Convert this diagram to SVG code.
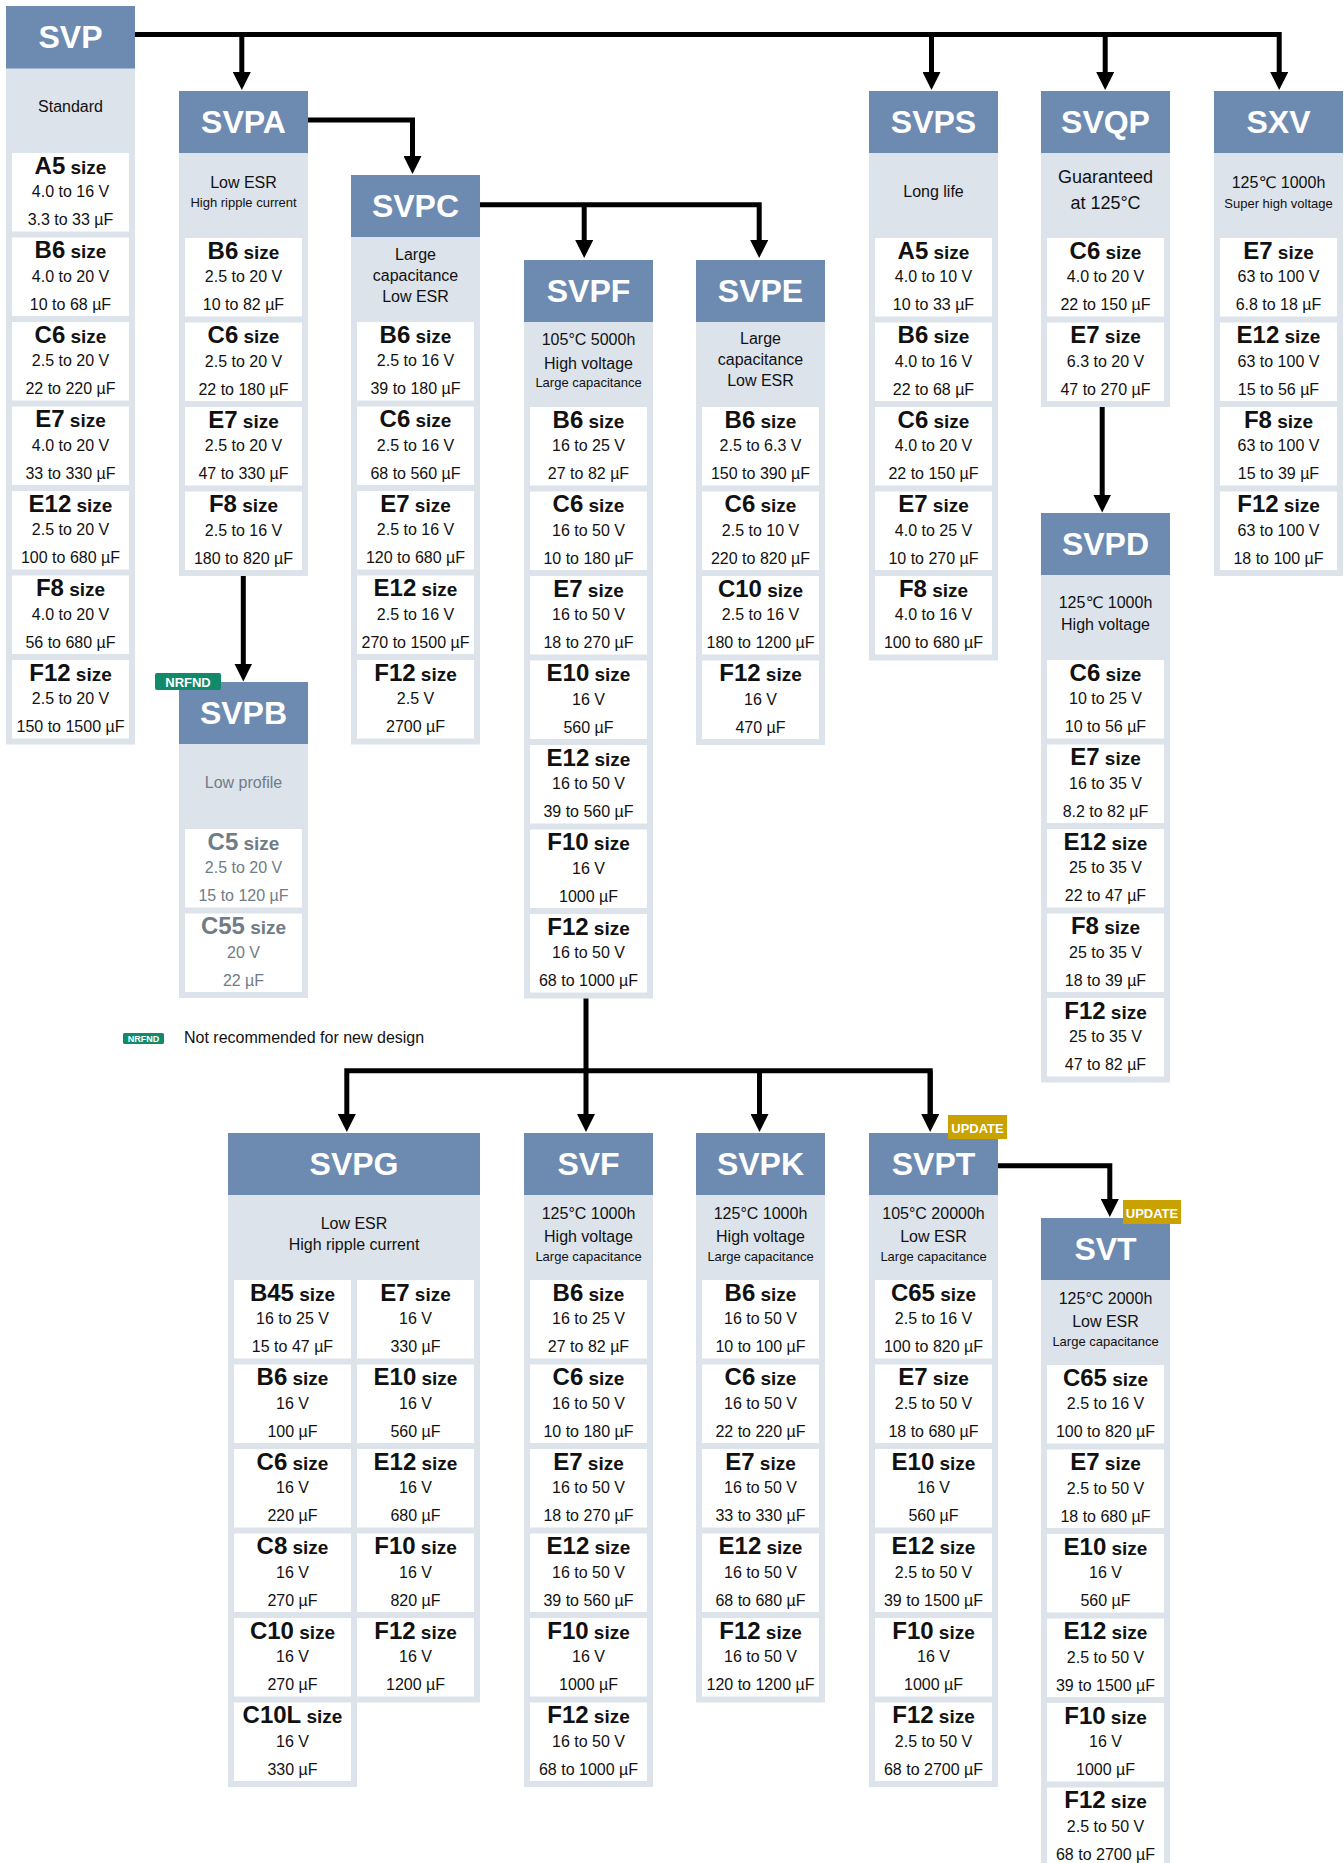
<svg xmlns="http://www.w3.org/2000/svg" width="1344" height="1863" viewBox="0 0 1344 1863">
<style>
text{font-family:"Liberation Sans",Arial,"DejaVu Sans",sans-serif;text-anchor:middle;fill:#111}
.hd{fill:#6d8ab1}
.bd{fill:#dce3eb}
.cd{fill:#fff}
.ht{font-size:32px;font-weight:bold;fill:#fff}
.d16{font-size:16px}
.d13{font-size:13px}
.d18{font-size:18px}
.t{font-size:24px;font-weight:bold}
.s{font-size:19px;font-weight:bold}
.v{font-size:16px}
.gr text,.gr{fill:#707c86}
.nr{fill:#108a6b}
.up{fill:#c9a200}
.bt{font-size:13px;font-weight:bold;fill:#fff}
.con{fill:none;stroke:#000;stroke-width:5;stroke-linejoin:miter;marker-end:url(#ah)}
.ln{fill:none;stroke:#000;stroke-width:5;stroke-linejoin:miter}
</style>
<defs>
<marker id="ah" markerUnits="userSpaceOnUse" viewBox="0 0 18 18" markerWidth="18" markerHeight="18" refX="8" refY="9" orient="auto"><path d="M0,0 L18,9 L0,18 Z" fill="#000"/></marker>
</defs>

<g id="SVP">
<rect class="bd" x="6" y="6" width="129" height="738.5"/>
<rect class="hd" x="6" y="6" width="129" height="62.5"/>
<text class="ht" x="70.5" y="48">SVP</text>
<text class="d16" x="70.5" y="112">Standard</text>
<g transform="translate(12,153)"><rect class="cd" width="117" height="78.5"/><text x="58.5" y="20.5"><tspan class="t">A5</tspan><tspan class="s"> size</tspan></text><text class="v" x="58.5" y="44">4.0 to 16 V</text><text class="v" x="58.5" y="72">3.3 to 33 µF</text></g>
<g transform="translate(12,237.5)"><rect class="cd" width="117" height="78.5"/><text x="58.5" y="20.5"><tspan class="t">B6</tspan><tspan class="s"> size</tspan></text><text class="v" x="58.5" y="44">4.0 to 20 V</text><text class="v" x="58.5" y="72">10 to 68 µF</text></g>
<g transform="translate(12,322)"><rect class="cd" width="117" height="78.5"/><text x="58.5" y="20.5"><tspan class="t">C6</tspan><tspan class="s"> size</tspan></text><text class="v" x="58.5" y="44">2.5 to 20 V</text><text class="v" x="58.5" y="72">22 to 220 µF</text></g>
<g transform="translate(12,406.5)"><rect class="cd" width="117" height="78.5"/><text x="58.5" y="20.5"><tspan class="t">E7</tspan><tspan class="s"> size</tspan></text><text class="v" x="58.5" y="44">4.0 to 20 V</text><text class="v" x="58.5" y="72">33 to 330 µF</text></g>
<g transform="translate(12,491)"><rect class="cd" width="117" height="78.5"/><text x="58.5" y="20.5"><tspan class="t">E12</tspan><tspan class="s"> size</tspan></text><text class="v" x="58.5" y="44">2.5 to 20 V</text><text class="v" x="58.5" y="72">100 to 680 µF</text></g>
<g transform="translate(12,575.5)"><rect class="cd" width="117" height="78.5"/><text x="58.5" y="20.5"><tspan class="t">F8</tspan><tspan class="s"> size</tspan></text><text class="v" x="58.5" y="44">4.0 to 20 V</text><text class="v" x="58.5" y="72">56 to 680 µF</text></g>
<g transform="translate(12,660)"><rect class="cd" width="117" height="78.5"/><text x="58.5" y="20.5"><tspan class="t">F12</tspan><tspan class="s"> size</tspan></text><text class="v" x="58.5" y="44">2.5 to 20 V</text><text class="v" x="58.5" y="72">150 to 1500 µF</text></g>
</g>

<g id="SVPA">
<rect class="bd" x="179" y="91" width="129" height="485"/>
<rect class="hd" x="179" y="91" width="129" height="62"/>
<text class="ht" x="243.5" y="133">SVPA</text>
<text class="d16" x="243.5" y="188">Low ESR</text>
<text class="d13" x="243.5" y="207">High ripple current</text>
<g transform="translate(185,238)"><rect class="cd" width="117" height="78.5"/><text x="58.5" y="20.5"><tspan class="t">B6</tspan><tspan class="s"> size</tspan></text><text class="v" x="58.5" y="44">2.5 to 20 V</text><text class="v" x="58.5" y="72">10 to 82 µF</text></g>
<g transform="translate(185,322.5)"><rect class="cd" width="117" height="78.5"/><text x="58.5" y="20.5"><tspan class="t">C6</tspan><tspan class="s"> size</tspan></text><text class="v" x="58.5" y="44">2.5 to 20 V</text><text class="v" x="58.5" y="72">22 to 180 µF</text></g>
<g transform="translate(185,407)"><rect class="cd" width="117" height="78.5"/><text x="58.5" y="20.5"><tspan class="t">E7</tspan><tspan class="s"> size</tspan></text><text class="v" x="58.5" y="44">2.5 to 20 V</text><text class="v" x="58.5" y="72">47 to 330 µF</text></g>
<g transform="translate(185,491.5)"><rect class="cd" width="117" height="78.5"/><text x="58.5" y="20.5"><tspan class="t">F8</tspan><tspan class="s"> size</tspan></text><text class="v" x="58.5" y="44">2.5 to 16 V</text><text class="v" x="58.5" y="72">180 to 820 µF</text></g>
</g>

<g id="SVPC">
<rect class="bd" x="351" y="175" width="129" height="569.5"/>
<rect class="hd" x="351" y="175" width="129" height="62"/>
<text class="ht" x="415.5" y="217">SVPC</text>
<text class="d16" x="415.5" y="260">Large</text>
<text class="d16" x="415.5" y="281">capacitance</text>
<text class="d16" x="415.5" y="302">Low ESR</text>
<g transform="translate(357,322)"><rect class="cd" width="117" height="78.5"/><text x="58.5" y="20.5"><tspan class="t">B6</tspan><tspan class="s"> size</tspan></text><text class="v" x="58.5" y="44">2.5 to 16 V</text><text class="v" x="58.5" y="72">39 to 180 µF</text></g>
<g transform="translate(357,406.5)"><rect class="cd" width="117" height="78.5"/><text x="58.5" y="20.5"><tspan class="t">C6</tspan><tspan class="s"> size</tspan></text><text class="v" x="58.5" y="44">2.5 to 16 V</text><text class="v" x="58.5" y="72">68 to 560 µF</text></g>
<g transform="translate(357,491)"><rect class="cd" width="117" height="78.5"/><text x="58.5" y="20.5"><tspan class="t">E7</tspan><tspan class="s"> size</tspan></text><text class="v" x="58.5" y="44">2.5 to 16 V</text><text class="v" x="58.5" y="72">120 to 680 µF</text></g>
<g transform="translate(357,575.5)"><rect class="cd" width="117" height="78.5"/><text x="58.5" y="20.5"><tspan class="t">E12</tspan><tspan class="s"> size</tspan></text><text class="v" x="58.5" y="44">2.5 to 16 V</text><text class="v" x="58.5" y="72">270 to 1500 µF</text></g>
<g transform="translate(357,660)"><rect class="cd" width="117" height="78.5"/><text x="58.5" y="20.5"><tspan class="t">F12</tspan><tspan class="s"> size</tspan></text><text class="v" x="58.5" y="44">2.5 V</text><text class="v" x="58.5" y="72">2700 µF</text></g>
</g>

<g id="SVPF">
<rect class="bd" x="524" y="260" width="129" height="738.5"/>
<rect class="hd" x="524" y="260" width="129" height="62"/>
<text class="ht" x="588.5" y="302">SVPF</text>
<text class="d16" x="588.5" y="345">105°C 5000h</text>
<text class="d16" x="588.5" y="369">High voltage</text>
<text class="d13" x="588.5" y="387">Large capacitance</text>
<g transform="translate(530,407)"><rect class="cd" width="117" height="78.5"/><text x="58.5" y="20.5"><tspan class="t">B6</tspan><tspan class="s"> size</tspan></text><text class="v" x="58.5" y="44">16 to 25 V</text><text class="v" x="58.5" y="72">27 to 82 µF</text></g>
<g transform="translate(530,491.5)"><rect class="cd" width="117" height="78.5"/><text x="58.5" y="20.5"><tspan class="t">C6</tspan><tspan class="s"> size</tspan></text><text class="v" x="58.5" y="44">16 to 50 V</text><text class="v" x="58.5" y="72">10 to 180 µF</text></g>
<g transform="translate(530,576)"><rect class="cd" width="117" height="78.5"/><text x="58.5" y="20.5"><tspan class="t">E7</tspan><tspan class="s"> size</tspan></text><text class="v" x="58.5" y="44">16 to 50 V</text><text class="v" x="58.5" y="72">18 to 270 µF</text></g>
<g transform="translate(530,660.5)"><rect class="cd" width="117" height="78.5"/><text x="58.5" y="20.5"><tspan class="t">E10</tspan><tspan class="s"> size</tspan></text><text class="v" x="58.5" y="44">16 V</text><text class="v" x="58.5" y="72">560 µF</text></g>
<g transform="translate(530,745)"><rect class="cd" width="117" height="78.5"/><text x="58.5" y="20.5"><tspan class="t">E12</tspan><tspan class="s"> size</tspan></text><text class="v" x="58.5" y="44">16 to 50 V</text><text class="v" x="58.5" y="72">39 to 560 µF</text></g>
<g transform="translate(530,829.5)"><rect class="cd" width="117" height="78.5"/><text x="58.5" y="20.5"><tspan class="t">F10</tspan><tspan class="s"> size</tspan></text><text class="v" x="58.5" y="44">16 V</text><text class="v" x="58.5" y="72">1000 µF</text></g>
<g transform="translate(530,914)"><rect class="cd" width="117" height="78.5"/><text x="58.5" y="20.5"><tspan class="t">F12</tspan><tspan class="s"> size</tspan></text><text class="v" x="58.5" y="44">16 to 50 V</text><text class="v" x="58.5" y="72">68 to 1000 µF</text></g>
</g>

<g id="SVPE">
<rect class="bd" x="696" y="260" width="129" height="485"/>
<rect class="hd" x="696" y="260" width="129" height="62"/>
<text class="ht" x="760.5" y="302">SVPE</text>
<text class="d16" x="760.5" y="344">Large</text>
<text class="d16" x="760.5" y="365">capacitance</text>
<text class="d16" x="760.5" y="386">Low ESR</text>
<g transform="translate(702,407)"><rect class="cd" width="117" height="78.5"/><text x="58.5" y="20.5"><tspan class="t">B6</tspan><tspan class="s"> size</tspan></text><text class="v" x="58.5" y="44">2.5 to 6.3 V</text><text class="v" x="58.5" y="72">150 to 390 µF</text></g>
<g transform="translate(702,491.5)"><rect class="cd" width="117" height="78.5"/><text x="58.5" y="20.5"><tspan class="t">C6</tspan><tspan class="s"> size</tspan></text><text class="v" x="58.5" y="44">2.5 to 10 V</text><text class="v" x="58.5" y="72">220 to 820 µF</text></g>
<g transform="translate(702,576)"><rect class="cd" width="117" height="78.5"/><text x="58.5" y="20.5"><tspan class="t">C10</tspan><tspan class="s"> size</tspan></text><text class="v" x="58.5" y="44">2.5 to 16 V</text><text class="v" x="58.5" y="72">180 to 1200 µF</text></g>
<g transform="translate(702,660.5)"><rect class="cd" width="117" height="78.5"/><text x="58.5" y="20.5"><tspan class="t">F12</tspan><tspan class="s"> size</tspan></text><text class="v" x="58.5" y="44">16 V</text><text class="v" x="58.5" y="72">470 µF</text></g>
</g>

<g id="SVPS">
<rect class="bd" x="869" y="91" width="129" height="569.5"/>
<rect class="hd" x="869" y="91" width="129" height="62"/>
<text class="ht" x="933.5" y="133">SVPS</text>
<text class="d16" x="933.5" y="197">Long life</text>
<g transform="translate(875,238)"><rect class="cd" width="117" height="78.5"/><text x="58.5" y="20.5"><tspan class="t">A5</tspan><tspan class="s"> size</tspan></text><text class="v" x="58.5" y="44">4.0 to 10 V</text><text class="v" x="58.5" y="72">10 to 33 µF</text></g>
<g transform="translate(875,322.5)"><rect class="cd" width="117" height="78.5"/><text x="58.5" y="20.5"><tspan class="t">B6</tspan><tspan class="s"> size</tspan></text><text class="v" x="58.5" y="44">4.0 to 16 V</text><text class="v" x="58.5" y="72">22 to 68 µF</text></g>
<g transform="translate(875,407)"><rect class="cd" width="117" height="78.5"/><text x="58.5" y="20.5"><tspan class="t">C6</tspan><tspan class="s"> size</tspan></text><text class="v" x="58.5" y="44">4.0 to 20 V</text><text class="v" x="58.5" y="72">22 to 150 µF</text></g>
<g transform="translate(875,491.5)"><rect class="cd" width="117" height="78.5"/><text x="58.5" y="20.5"><tspan class="t">E7</tspan><tspan class="s"> size</tspan></text><text class="v" x="58.5" y="44">4.0 to 25 V</text><text class="v" x="58.5" y="72">10 to 270 µF</text></g>
<g transform="translate(875,576)"><rect class="cd" width="117" height="78.5"/><text x="58.5" y="20.5"><tspan class="t">F8</tspan><tspan class="s"> size</tspan></text><text class="v" x="58.5" y="44">4.0 to 16 V</text><text class="v" x="58.5" y="72">100 to 680 µF</text></g>
</g>

<g id="SVQP">
<rect class="bd" x="1041" y="91" width="129" height="316"/>
<rect class="hd" x="1041" y="91" width="129" height="62"/>
<text class="ht" x="1105.5" y="133">SVQP</text>
<text class="d18" x="1105.5" y="183">Guaranteed</text>
<text class="d18" x="1105.5" y="209">at 125°C</text>
<g transform="translate(1047,238)"><rect class="cd" width="117" height="78.5"/><text x="58.5" y="20.5"><tspan class="t">C6</tspan><tspan class="s"> size</tspan></text><text class="v" x="58.5" y="44">4.0 to 20 V</text><text class="v" x="58.5" y="72">22 to 150 µF</text></g>
<g transform="translate(1047,322.5)"><rect class="cd" width="117" height="78.5"/><text x="58.5" y="20.5"><tspan class="t">E7</tspan><tspan class="s"> size</tspan></text><text class="v" x="58.5" y="44">6.3 to 20 V</text><text class="v" x="58.5" y="72">47 to 270 µF</text></g>
</g>

<g id="SXV">
<rect class="bd" x="1214" y="91" width="129" height="485"/>
<rect class="hd" x="1214" y="91" width="129" height="62"/>
<text class="ht" x="1278.5" y="133">SXV</text>
<text class="d16" x="1278.5" y="188">125℃ 1000h</text>
<text class="d13" x="1278.5" y="208">Super high voltage</text>
<g transform="translate(1220,238)"><rect class="cd" width="117" height="78.5"/><text x="58.5" y="20.5"><tspan class="t">E7</tspan><tspan class="s"> size</tspan></text><text class="v" x="58.5" y="44">63 to 100 V</text><text class="v" x="58.5" y="72">6.8 to 18 µF</text></g>
<g transform="translate(1220,322.5)"><rect class="cd" width="117" height="78.5"/><text x="58.5" y="20.5"><tspan class="t">E12</tspan><tspan class="s"> size</tspan></text><text class="v" x="58.5" y="44">63 to 100 V</text><text class="v" x="58.5" y="72">15 to 56 µF</text></g>
<g transform="translate(1220,407)"><rect class="cd" width="117" height="78.5"/><text x="58.5" y="20.5"><tspan class="t">F8</tspan><tspan class="s"> size</tspan></text><text class="v" x="58.5" y="44">63 to 100 V</text><text class="v" x="58.5" y="72">15 to 39 µF</text></g>
<g transform="translate(1220,491.5)"><rect class="cd" width="117" height="78.5"/><text x="58.5" y="20.5"><tspan class="t">F12</tspan><tspan class="s"> size</tspan></text><text class="v" x="58.5" y="44">63 to 100 V</text><text class="v" x="58.5" y="72">18 to 100 µF</text></g>
</g>

<g id="SVPB">
<rect class="bd" x="179" y="682" width="129" height="316"/>
<rect class="hd" x="179" y="682" width="129" height="62"/>
<text class="ht" x="243.5" y="724">SVPB</text>
<rect class="nr" x="155" y="673" width="66" height="17" rx="2"/>
<text class="bt" x="188" y="686.5">NRFND</text>
<g class="gr">
<text class="d16" x="243.5" y="788">Low profile</text>
<g transform="translate(185,829)"><rect class="cd" width="117" height="78.5"/><text x="58.5" y="20.5"><tspan class="t">C5</tspan><tspan class="s"> size</tspan></text><text class="v" x="58.5" y="44">2.5 to 20 V</text><text class="v" x="58.5" y="72">15 to 120 µF</text></g>
<g transform="translate(185,913.5)"><rect class="cd" width="117" height="78.5"/><text x="58.5" y="20.5"><tspan class="t">C55</tspan><tspan class="s"> size</tspan></text><text class="v" x="58.5" y="44">20 V</text><text class="v" x="58.5" y="72">22 µF</text></g>
</g>
</g>

<g id="SVPD">
<rect class="bd" x="1041" y="513" width="129" height="569.5"/>
<rect class="hd" x="1041" y="513" width="129" height="62"/>
<text class="ht" x="1105.5" y="555">SVPD</text>
<text class="d16" x="1105.5" y="608">125℃ 1000h</text>
<text class="d16" x="1105.5" y="630">High voltage</text>
<g transform="translate(1047,660)"><rect class="cd" width="117" height="78.5"/><text x="58.5" y="20.5"><tspan class="t">C6</tspan><tspan class="s"> size</tspan></text><text class="v" x="58.5" y="44">10 to 25 V</text><text class="v" x="58.5" y="72">10 to 56 µF</text></g>
<g transform="translate(1047,744.5)"><rect class="cd" width="117" height="78.5"/><text x="58.5" y="20.5"><tspan class="t">E7</tspan><tspan class="s"> size</tspan></text><text class="v" x="58.5" y="44">16 to 35 V</text><text class="v" x="58.5" y="72">8.2 to 82 µF</text></g>
<g transform="translate(1047,829)"><rect class="cd" width="117" height="78.5"/><text x="58.5" y="20.5"><tspan class="t">E12</tspan><tspan class="s"> size</tspan></text><text class="v" x="58.5" y="44">25 to 35 V</text><text class="v" x="58.5" y="72">22 to 47 µF</text></g>
<g transform="translate(1047,913.5)"><rect class="cd" width="117" height="78.5"/><text x="58.5" y="20.5"><tspan class="t">F8</tspan><tspan class="s"> size</tspan></text><text class="v" x="58.5" y="44">25 to 35 V</text><text class="v" x="58.5" y="72">18 to 39 µF</text></g>
<g transform="translate(1047,998)"><rect class="cd" width="117" height="78.5"/><text x="58.5" y="20.5"><tspan class="t">F12</tspan><tspan class="s"> size</tspan></text><text class="v" x="58.5" y="44">25 to 35 V</text><text class="v" x="58.5" y="72">47 to 82 µF</text></g>
</g>

<g id="legend">
<rect class="nr" x="123" y="1033" width="41" height="11" rx="1.5"/>
<text x="143.5" y="1042" style="font-size:9px;font-weight:bold;fill:#fff">NRFND</text>
<text class="d16" x="184" y="1043" style="text-anchor:start">Not recommended for new design</text>
</g>

<g id="SVPG">
<path class="bd" d="M228,1133 H480 V1702.5 H357 V1787 H228 Z"/>
<rect class="hd" x="228" y="1133" width="252" height="62"/>
<text class="ht" x="354" y="1175">SVPG</text>
<text class="d16" x="354" y="1229">Low ESR</text>
<text class="d16" x="354" y="1250">High ripple current</text>
<g transform="translate(234,1280)"><rect class="cd" width="117" height="78.5"/><text x="58.5" y="20.5"><tspan class="t">B45</tspan><tspan class="s"> size</tspan></text><text class="v" x="58.5" y="44">16 to 25 V</text><text class="v" x="58.5" y="72">15 to 47 µF</text></g>
<g transform="translate(234,1364.5)"><rect class="cd" width="117" height="78.5"/><text x="58.5" y="20.5"><tspan class="t">B6</tspan><tspan class="s"> size</tspan></text><text class="v" x="58.5" y="44">16 V</text><text class="v" x="58.5" y="72">100 µF</text></g>
<g transform="translate(234,1449)"><rect class="cd" width="117" height="78.5"/><text x="58.5" y="20.5"><tspan class="t">C6</tspan><tspan class="s"> size</tspan></text><text class="v" x="58.5" y="44">16 V</text><text class="v" x="58.5" y="72">220 µF</text></g>
<g transform="translate(234,1533.5)"><rect class="cd" width="117" height="78.5"/><text x="58.5" y="20.5"><tspan class="t">C8</tspan><tspan class="s"> size</tspan></text><text class="v" x="58.5" y="44">16 V</text><text class="v" x="58.5" y="72">270 µF</text></g>
<g transform="translate(234,1618)"><rect class="cd" width="117" height="78.5"/><text x="58.5" y="20.5"><tspan class="t">C10</tspan><tspan class="s"> size</tspan></text><text class="v" x="58.5" y="44">16 V</text><text class="v" x="58.5" y="72">270 µF</text></g>
<g transform="translate(234,1702.5)"><rect class="cd" width="117" height="78.5"/><text x="58.5" y="20.5"><tspan class="t">C10L</tspan><tspan class="s"> size</tspan></text><text class="v" x="58.5" y="44">16 V</text><text class="v" x="58.5" y="72">330 µF</text></g>
<g transform="translate(357,1280)"><rect class="cd" width="117" height="78.5"/><text x="58.5" y="20.5"><tspan class="t">E7</tspan><tspan class="s"> size</tspan></text><text class="v" x="58.5" y="44">16 V</text><text class="v" x="58.5" y="72">330 µF</text></g>
<g transform="translate(357,1364.5)"><rect class="cd" width="117" height="78.5"/><text x="58.5" y="20.5"><tspan class="t">E10</tspan><tspan class="s"> size</tspan></text><text class="v" x="58.5" y="44">16 V</text><text class="v" x="58.5" y="72">560 µF</text></g>
<g transform="translate(357,1449)"><rect class="cd" width="117" height="78.5"/><text x="58.5" y="20.5"><tspan class="t">E12</tspan><tspan class="s"> size</tspan></text><text class="v" x="58.5" y="44">16 V</text><text class="v" x="58.5" y="72">680 µF</text></g>
<g transform="translate(357,1533.5)"><rect class="cd" width="117" height="78.5"/><text x="58.5" y="20.5"><tspan class="t">F10</tspan><tspan class="s"> size</tspan></text><text class="v" x="58.5" y="44">16 V</text><text class="v" x="58.5" y="72">820 µF</text></g>
<g transform="translate(357,1618)"><rect class="cd" width="117" height="78.5"/><text x="58.5" y="20.5"><tspan class="t">F12</tspan><tspan class="s"> size</tspan></text><text class="v" x="58.5" y="44">16 V</text><text class="v" x="58.5" y="72">1200 µF</text></g>
</g>

<g id="SVF">
<rect class="bd" x="524" y="1133" width="129" height="654"/>
<rect class="hd" x="524" y="1133" width="129" height="62"/>
<text class="ht" x="588.5" y="1175">SVF</text>
<text class="d16" x="588.5" y="1219">125°C 1000h</text>
<text class="d16" x="588.5" y="1242">High voltage</text>
<text class="d13" x="588.5" y="1261">Large capacitance</text>
<g transform="translate(530,1280)"><rect class="cd" width="117" height="78.5"/><text x="58.5" y="20.5"><tspan class="t">B6</tspan><tspan class="s"> size</tspan></text><text class="v" x="58.5" y="44">16 to 25 V</text><text class="v" x="58.5" y="72">27 to 82 µF</text></g>
<g transform="translate(530,1364.5)"><rect class="cd" width="117" height="78.5"/><text x="58.5" y="20.5"><tspan class="t">C6</tspan><tspan class="s"> size</tspan></text><text class="v" x="58.5" y="44">16 to 50 V</text><text class="v" x="58.5" y="72">10 to 180 µF</text></g>
<g transform="translate(530,1449)"><rect class="cd" width="117" height="78.5"/><text x="58.5" y="20.5"><tspan class="t">E7</tspan><tspan class="s"> size</tspan></text><text class="v" x="58.5" y="44">16 to 50 V</text><text class="v" x="58.5" y="72">18 to 270 µF</text></g>
<g transform="translate(530,1533.5)"><rect class="cd" width="117" height="78.5"/><text x="58.5" y="20.5"><tspan class="t">E12</tspan><tspan class="s"> size</tspan></text><text class="v" x="58.5" y="44">16 to 50 V</text><text class="v" x="58.5" y="72">39 to 560 µF</text></g>
<g transform="translate(530,1618)"><rect class="cd" width="117" height="78.5"/><text x="58.5" y="20.5"><tspan class="t">F10</tspan><tspan class="s"> size</tspan></text><text class="v" x="58.5" y="44">16 V</text><text class="v" x="58.5" y="72">1000 µF</text></g>
<g transform="translate(530,1702.5)"><rect class="cd" width="117" height="78.5"/><text x="58.5" y="20.5"><tspan class="t">F12</tspan><tspan class="s"> size</tspan></text><text class="v" x="58.5" y="44">16 to 50 V</text><text class="v" x="58.5" y="72">68 to 1000 µF</text></g>
</g>

<g id="SVPK">
<rect class="bd" x="696" y="1133" width="129" height="569.5"/>
<rect class="hd" x="696" y="1133" width="129" height="62"/>
<text class="ht" x="760.5" y="1175">SVPK</text>
<text class="d16" x="760.5" y="1219">125°C 1000h</text>
<text class="d16" x="760.5" y="1242">High voltage</text>
<text class="d13" x="760.5" y="1261">Large capacitance</text>
<g transform="translate(702,1280)"><rect class="cd" width="117" height="78.5"/><text x="58.5" y="20.5"><tspan class="t">B6</tspan><tspan class="s"> size</tspan></text><text class="v" x="58.5" y="44">16 to 50 V</text><text class="v" x="58.5" y="72">10 to 100 µF</text></g>
<g transform="translate(702,1364.5)"><rect class="cd" width="117" height="78.5"/><text x="58.5" y="20.5"><tspan class="t">C6</tspan><tspan class="s"> size</tspan></text><text class="v" x="58.5" y="44">16 to 50 V</text><text class="v" x="58.5" y="72">22 to 220 µF</text></g>
<g transform="translate(702,1449)"><rect class="cd" width="117" height="78.5"/><text x="58.5" y="20.5"><tspan class="t">E7</tspan><tspan class="s"> size</tspan></text><text class="v" x="58.5" y="44">16 to 50 V</text><text class="v" x="58.5" y="72">33 to 330 µF</text></g>
<g transform="translate(702,1533.5)"><rect class="cd" width="117" height="78.5"/><text x="58.5" y="20.5"><tspan class="t">E12</tspan><tspan class="s"> size</tspan></text><text class="v" x="58.5" y="44">16 to 50 V</text><text class="v" x="58.5" y="72">68 to 680 µF</text></g>
<g transform="translate(702,1618)"><rect class="cd" width="117" height="78.5"/><text x="58.5" y="20.5"><tspan class="t">F12</tspan><tspan class="s"> size</tspan></text><text class="v" x="58.5" y="44">16 to 50 V</text><text class="v" x="58.5" y="72">120 to 1200 µF</text></g>
</g>

<g id="SVPT">
<rect class="bd" x="869" y="1133" width="129" height="654"/>
<rect class="hd" x="869" y="1133" width="129" height="62"/>
<text class="ht" x="933.5" y="1175">SVPT</text>
<rect class="up" x="948" y="1115" width="59" height="24"/>
<text class="bt" x="977.5" y="1132.5">UPDATE</text>
<text class="d16" x="933.5" y="1219">105°C 20000h</text>
<text class="d16" x="933.5" y="1242">Low ESR</text>
<text class="d13" x="933.5" y="1261">Large capacitance</text>
<g transform="translate(875,1280)"><rect class="cd" width="117" height="78.5"/><text x="58.5" y="20.5"><tspan class="t">C65</tspan><tspan class="s"> size</tspan></text><text class="v" x="58.5" y="44">2.5 to 16 V</text><text class="v" x="58.5" y="72">100 to 820 µF</text></g>
<g transform="translate(875,1364.5)"><rect class="cd" width="117" height="78.5"/><text x="58.5" y="20.5"><tspan class="t">E7</tspan><tspan class="s"> size</tspan></text><text class="v" x="58.5" y="44">2.5 to 50 V</text><text class="v" x="58.5" y="72">18 to 680 µF</text></g>
<g transform="translate(875,1449)"><rect class="cd" width="117" height="78.5"/><text x="58.5" y="20.5"><tspan class="t">E10</tspan><tspan class="s"> size</tspan></text><text class="v" x="58.5" y="44">16 V</text><text class="v" x="58.5" y="72">560 µF</text></g>
<g transform="translate(875,1533.5)"><rect class="cd" width="117" height="78.5"/><text x="58.5" y="20.5"><tspan class="t">E12</tspan><tspan class="s"> size</tspan></text><text class="v" x="58.5" y="44">2.5 to 50 V</text><text class="v" x="58.5" y="72">39 to 1500 µF</text></g>
<g transform="translate(875,1618)"><rect class="cd" width="117" height="78.5"/><text x="58.5" y="20.5"><tspan class="t">F10</tspan><tspan class="s"> size</tspan></text><text class="v" x="58.5" y="44">16 V</text><text class="v" x="58.5" y="72">1000 µF</text></g>
<g transform="translate(875,1702.5)"><rect class="cd" width="117" height="78.5"/><text x="58.5" y="20.5"><tspan class="t">F12</tspan><tspan class="s"> size</tspan></text><text class="v" x="58.5" y="44">2.5 to 50 V</text><text class="v" x="58.5" y="72">68 to 2700 µF</text></g>
</g>

<g id="SVT">
<rect class="bd" x="1041" y="1218" width="129" height="660"/>
<rect class="hd" x="1041" y="1218" width="129" height="62"/>
<text class="ht" x="1105.5" y="1260">SVT</text>
<rect class="up" x="1123" y="1200" width="58" height="24"/>
<text class="bt" x="1152" y="1217.5">UPDATE</text>
<text class="d16" x="1105.5" y="1304">125°C 2000h</text>
<text class="d16" x="1105.5" y="1327">Low ESR</text>
<text class="d13" x="1105.5" y="1346">Large capacitance</text>
<g transform="translate(1047,1365)"><rect class="cd" width="117" height="78.5"/><text x="58.5" y="20.5"><tspan class="t">C65</tspan><tspan class="s"> size</tspan></text><text class="v" x="58.5" y="44">2.5 to 16 V</text><text class="v" x="58.5" y="72">100 to 820 µF</text></g>
<g transform="translate(1047,1449.5)"><rect class="cd" width="117" height="78.5"/><text x="58.5" y="20.5"><tspan class="t">E7</tspan><tspan class="s"> size</tspan></text><text class="v" x="58.5" y="44">2.5 to 50 V</text><text class="v" x="58.5" y="72">18 to 680 µF</text></g>
<g transform="translate(1047,1534)"><rect class="cd" width="117" height="78.5"/><text x="58.5" y="20.5"><tspan class="t">E10</tspan><tspan class="s"> size</tspan></text><text class="v" x="58.5" y="44">16 V</text><text class="v" x="58.5" y="72">560 µF</text></g>
<g transform="translate(1047,1618.5)"><rect class="cd" width="117" height="78.5"/><text x="58.5" y="20.5"><tspan class="t">E12</tspan><tspan class="s"> size</tspan></text><text class="v" x="58.5" y="44">2.5 to 50 V</text><text class="v" x="58.5" y="72">39 to 1500 µF</text></g>
<g transform="translate(1047,1703)"><rect class="cd" width="117" height="78.5"/><text x="58.5" y="20.5"><tspan class="t">F10</tspan><tspan class="s"> size</tspan></text><text class="v" x="58.5" y="44">16 V</text><text class="v" x="58.5" y="72">1000 µF</text></g>
<g transform="translate(1047,1787.5)"><rect class="cd" width="117" height="78.5"/><text x="58.5" y="20.5"><tspan class="t">F12</tspan><tspan class="s"> size</tspan></text><text class="v" x="58.5" y="44">2.5 to 50 V</text><text class="v" x="58.5" y="72">68 to 2700 µF</text></g>
</g>

<g id="connectors">
<path class="con" d="M135,34.5 H1279.2 V80"/>
<path class="con" d="M241.8,34.5 V80"/>
<path class="con" d="M931.5,34.5 V80"/>
<path class="con" d="M1105.2,34.5 V80"/>
<path class="con" d="M308,120 H412.5 V164"/>
<path class="con" d="M480,204.8 H759.2 V248"/>
<path class="con" d="M584.2,204.8 V248"/>
<path class="con" d="M243.3,576 V671.5"/>
<path class="con" d="M1102.2,407 V502.5"/>
<path class="con" d="M586,998.5 V1122"/>
<path class="con" d="M930.2,1122 V1070.8 H346.8 V1122"/>
<path class="con" d="M930.2,1070.8 V1122"/>
<path class="con" d="M759.5,1070.8 V1122"/>
<path class="con" d="M998,1165.8 H1109.8 V1207"/>
</g>
</svg>
